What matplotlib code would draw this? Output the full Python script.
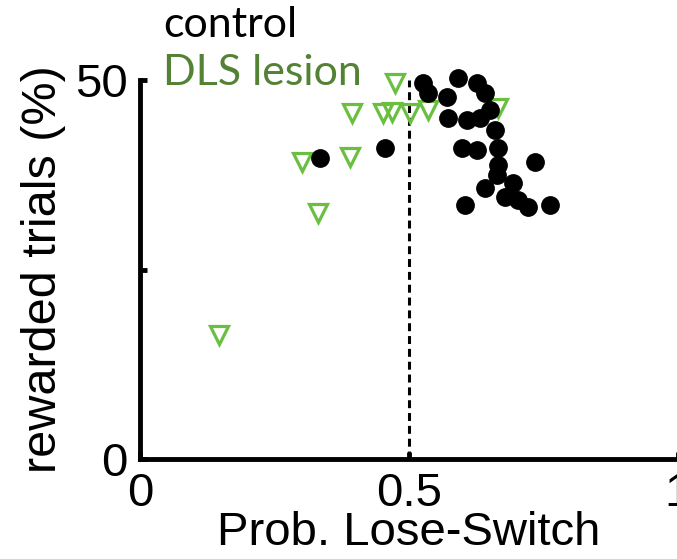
import matplotlib
matplotlib.use("Agg")
import matplotlib.pyplot as plt

# Control animals
control_x = [0.526, 0.535, 0.571, 0.591, 0.626, 0.641, 0.651, 0.572, 0.608,
             0.632, 0.660, 0.599, 0.626, 0.665, 0.665, 0.664, 0.641, 0.693,
             0.678, 0.703, 0.721, 0.734, 0.604, 0.762, 0.335, 0.455]
control_y = [49.6, 48.3, 47.8, 50.3, 49.6, 48.3, 46.0, 45.0, 44.7,
             45.0, 43.4, 41.0, 40.8, 41.0, 38.8, 37.5, 35.8, 36.4,
             34.6, 34.2, 33.2, 39.2, 33.5, 33.5, 39.7, 41.0]

# DLS lesion animals
lesion_x = [0.474, 0.394, 0.452, 0.468, 0.502, 0.535, 0.665, 0.301, 0.390,
            0.331, 0.146]
lesion_y = [49.6, 45.6, 45.6, 45.8, 45.6, 46.0, 46.3, 39.2, 39.8,
            32.5, 16.4]

chance_level = 0.5
x_ticks = [0, 0.5, 1]
x_tick_labels = ["0", "0.5", "1"]
y_ticks = [0, 25, 50]
y_tick_labels = ["0", "", "50"]

green = "#6abf40"
green_text = "#548235"

fig = plt.figure(figsize=(6.77, 5.59), dpi=100)
ax = fig.add_axes([140 / 677, 1 - 459 / 559, 538 / 677, 379 / 559])

ax.plot(lesion_x, lesion_y, linestyle="none", marker="v", markersize=12.5,
        markerfacecolor="none", markeredgecolor=green, markeredgewidth=2.3,
        clip_on=False, zorder=3)
ax.plot(control_x, control_y, linestyle="none", marker="o", markersize=12.5,
        color="black", clip_on=False, zorder=4)

ax.axvline(chance_level, color="black", linestyle=(0, (2.6, 1.6)),
           linewidth=2.2, zorder=1)

ax.set_xlim(0, 1)
ax.set_ylim(0, 50)
ax.set_xticks(x_ticks)
ax.set_xticklabels(x_tick_labels)
ax.set_yticks(y_ticks)
ax.set_yticklabels(y_tick_labels)

for side in ["top", "right"]:
    ax.spines[side].set_visible(False)
for side in ["left", "bottom"]:
    ax.spines[side].set_linewidth(3.5)

ax.tick_params(direction="in", length=5, width=3.5, pad=9,
               labelsize=34, labelfontfamily="Liberation Sans")

ax.set_xlabel("Prob. Lose-Switch", fontsize=34, family="Liberation Sans",
              labelpad=-3)
ax.set_ylabel("rewarded trials (%)", fontsize=35, family="Liberation Sans",
              labelpad=6)

fig.text(163 / 677, 1 - 37 / 559, "control", fontsize=31, family="Lato",
         color="black", ha="left", va="baseline")
fig.text(163 / 677, 1 - 85 / 559, "DLS lesion", fontsize=31, family="Lato",
         color=green_text, ha="left", va="baseline")

fig.savefig("out.png", dpi=100)
